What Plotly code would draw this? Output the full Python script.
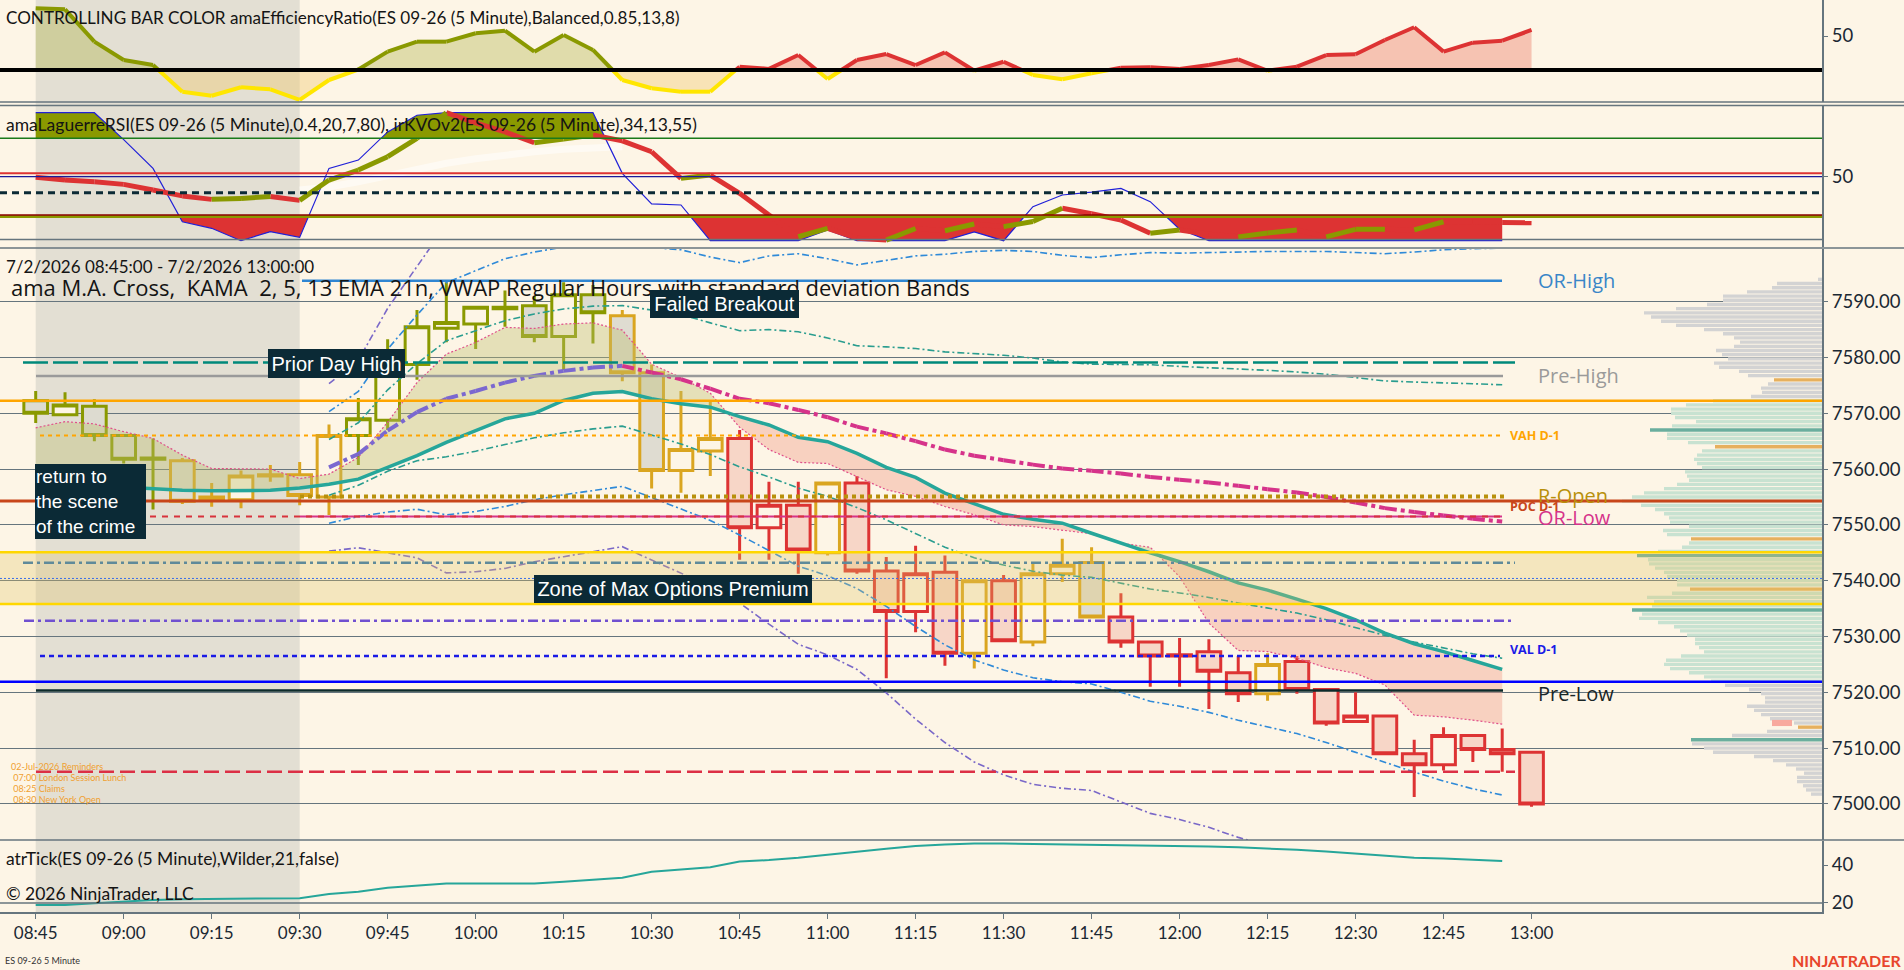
import numpy as np
import pandas as pd
import plotly.graph_objects as go

# ---------------- data (ES 09-26, 5 minute, 7/2/2026) ----------------
bar_times = pd.date_range("2026-07-02 08:45", "2026-07-02 13:00", freq="5min")

opens = [7572.25, 7569.75, 7571.25, 7566.0, 7562.0, 7561.5, 7554.75, 7554.5, 7558.75, 7559.0,
         7555.0, 7566.0, 7568.75, 7578.75, 7585.25, 7586.0, 7588.75, 7589.25, 7583.75, 7591.25,
         7587.5, 7577.25, 7559.75, 7563.25, 7565.5, 7549.5, 7553.5, 7545.0, 7557.5, 7541.75,
         7534.5, 7541.5, 7527.0, 7540.0, 7529.0, 7541.25, 7543.25, 7533.5, 7529.0, 7526.5,
         7527.25, 7523.5, 7519.75, 7525.5, 7520.5, 7514.75, 7515.75, 7509.0, 7507.0, 7512.25,
         7509.75, 7509.25]
highs = [7574.0, 7573.75, 7572.5, 7566.25, 7565.5, 7562.0, 7557.5, 7559.75, 7560.75, 7561.25,
         7568.0, 7572.75, 7583.25, 7588.5, 7593.5, 7589.25, 7592.0, 7591.0, 7593.5, 7593.0,
         7588.5, 7578.75, 7574.0, 7572.0, 7567.0, 7557.75, 7557.75, 7557.5, 7558.75, 7544.25,
         7546.25, 7544.5, 7540.0, 7541.0, 7543.0, 7547.5, 7546.0, 7537.75, 7529.0, 7529.75,
         7529.5, 7526.5, 7527.0, 7526.5, 7520.75, 7520.0, 7515.75, 7511.5, 7513.75, 7512.5,
         7513.5, 7509.25]
lows = [7568.25, 7569.5, 7565.0, 7561.0, 7552.75, 7553.75, 7553.25, 7553.0, 7557.75, 7553.5,
        7551.75, 7560.75, 7567.0, 7576.0, 7582.75, 7581.5, 7585.5, 7582.75, 7577.75, 7582.5,
        7575.75, 7556.5, 7555.75, 7558.75, 7543.75, 7543.75, 7541.25, 7544.5, 7541.25, 7522.5,
        7530.75, 7524.75, 7524.25, 7529.25, 7528.25, 7539.75, 7533.5, 7528.0, 7521.0, 7521.0,
        7517.0, 7518.25, 7518.5, 7519.75, 7514.0, 7514.75, 7509.0, 7501.25, 7506.0, 7507.5,
        7505.75, 7499.5]
closes = [7570.0, 7571.5, 7566.0, 7561.75, 7561.75, 7554.25, 7555.0, 7558.75, 7559.0, 7555.25,
          7566.0, 7569.0, 7578.75, 7585.5, 7586.25, 7589.0, 7589.0, 7583.75, 7591.25, 7588.0,
          7577.25, 7559.75, 7563.5, 7565.5, 7549.5, 7553.5, 7545.5, 7557.5, 7541.75, 7534.5,
          7541.25, 7527.0, 7540.0, 7529.25, 7541.25, 7542.75, 7533.5, 7529.0, 7526.5, 7526.75,
          7523.75, 7519.75, 7525.0, 7520.5, 7514.5, 7515.75, 7509.0, 7507.0, 7512.25, 7509.75,
          7509.0, 7500.0]
# bar colour set by the efficiency ratio: O olive, G gold, R red
bar_colors = "OOOOOGGGGGGOOOOOOOOOGGGGRRRGRRRRGRGGGRRRRRGRRRRRRRRR"

ema_line = [7557.6, 7557.3, 7557.0, 7556.7, 7556.4, 7556.2, 7556.1, 7556.1, 7556.2, 7556.6,
            7557.3, 7558.2, 7560.3, 7562.4, 7564.8, 7566.9, 7569.0, 7570.0, 7572.3, 7573.6,
            7573.9, 7572.6, 7571.7, 7571.1, 7569.4, 7567.9, 7565.7, 7564.9, 7562.8, 7560.3,
            7558.5, 7555.7, 7553.8, 7551.9, 7551.0, 7550.3, 7548.5, 7546.7, 7545.0, 7543.4,
            7541.6, 7539.6, 7538.3, 7536.7, 7535.0, 7533.0, 7530.6, 7528.7, 7527.3, 7525.7,
            7524.1]
fast_line = [7567.4, 7568.5, 7568.1, 7566.7, 7565.5, 7562.5, 7560.1, 7560.0, 7560.0, 7558.3,
             7559.1, 7562.1, 7568.4, 7575.5, 7580.6, 7582.7, 7585.4, 7585.2, 7586.0, 7586.2,
             7584.9, 7578.8, 7576.4, 7573.6, 7567.5, 7563.5, 7561.2, 7561.0, 7558.6, 7556.3,
             7555.1, 7553.3, 7551.8, 7550.0, 7549.7, 7549.1, 7548.4, 7546.7, 7546.0, 7540.7,
             7532.4, 7527.5, 7527.3, 7526.1, 7524.4, 7523.4, 7521.3, 7515.9, 7515.6, 7515.0,
             7514.3]
vwap_start = 10  # first regular-hours bar
vwap = [7560.3, 7562.7, 7566.9, 7570.2, 7572.6, 7574.0, 7575.5, 7576.7, 7577.6, 7578.2,
        7578.5, 7577.3, 7576.1, 7574.4, 7572.6, 7571.8, 7570.6, 7569.3, 7567.6, 7566.4,
        7565.0, 7563.5, 7562.4, 7561.6, 7560.8, 7560.1, 7559.7, 7559.2, 7558.6, 7558.1,
        7557.6, 7557.0, 7556.4, 7555.8, 7555.0, 7554.0, 7553.0, 7552.3, 7551.7, 7551.1,
        7550.6]
vwap_sd = [5.0, 5.6, 7.3, 8.7, 10.4, 10.8, 11.1, 11.1, 11.1, 11.0,
           10.8, 11.2, 11.6, 11.8, 12.2, 13.2, 14.0, 14.2, 14.5, 15.5,
           16.6, 17.5, 18.3, 18.8, 19.1, 19.1, 19.1, 19.6, 20.1, 20.3,
           20.6, 21.0, 21.3, 21.6, 22.0, 22.4, 22.8, 23.3, 23.8, 24.2,
           24.5]

levels = {
    "or_high": 7593.75, "prior_high": 7579.1, "pre_high": 7576.7, "orange": 7572.25,
    "vah": 7566.0, "r_open": 7555.1, "poc": 7554.3, "or_low": 7551.5,
    "zone_top": 7545.1, "zone_mid": 7543.2, "blue_dot": 7540.4, "zone_bot": 7535.8,
    "purple": 7532.8, "val": 7526.5, "blue": 7521.9, "pre_low": 7520.3, "red_low": 7505.75,
}

# volume profile (0.75 pt rows from the top, relative volume)
vp_top, vp_step = 7594.0, 0.75
vp_volume = [4,
             45, 50, 75, 99, 99, 115, 146, 178, 171, 161, 146, 118, 99, 88, 82,
             88, 106, 100, 94, 108, 103, 83, 74, 48, 54, 61, 60, 71, 109, 136,
             151, 151, 147, 126, 150, 172, 155, 155, 134, 107, 120, 125, 128, 125, 120,
             137, 135, 133, 145, 158, 178, 190, 200, 181, 167, 158, 153, 152, 133, 159,
             155, 131, 133, 140, 164, 185, 174, 173, 167, 158, 155,
             145, 145, 132, 150, 175, 168, 170, 190, 180, 183, 164, 148, 142, 135, 127,
             127, 123, 118, 141, 156, 158, 152, 133, 118, 111, 97, 73, 61, 57, 57,
             75, 68, 61, 52, 28, 24, 55, 90, 131, 130, 118, 109, 68, 49, 36,
             26, 18, 25, 25, 19, 16, 11]
vp_value_area = (7521.5, 7572.5)
vp_orange_rows = [24, 40, 62, 74, 107]
vp_teal_rows = [36, 66, 79, 110]
vp_pink_row, vp_pink_from, vp_pink_len = 106, 30, 20

# efficiency ratio panel
er_values = [74.4, 73.5, 45.0, 28.8, 24.4, 0.9, -2.7, 4.8, 3.0, -6.4,
             11.2, 20.5, 36.2, 45.0, 45.0, 52.4, 54.7, 36.2, 50.9, 37.7,
             11.2, 3.9, 0.9, 0.9, 22.9, 21.0, 33.2, 12.1, 28.8, 34.1,
             24.4, 35.6, 19.4, 27.3, 15.6, 11.8, 17.1, 22.0, 22.4, 21.0,
             24.4, 29.4, 19.4, 22.9, 33.2, 33.9, 46.5, 57.7, 36.2, 44.1,
             45.9, 55.3]
er_level = 20.0
er_regime = "UUUUUUUUUUUUUUUUUUUUDDDDDDDDDDDDDDDDDDDDDDDDDDDDDDDD"

# Laguerre RSI / KVO panel
lrsi = [100, 100, 100, 79, 56.5, 14.8, 9.7, 0, 7, 2.6,
        56.5, 63, 85, 98, 100, 100, 100, 100, 100, 100,
        52.6, 28.7, 27.9, 0, 0, 0, 0, 8.4, 0, 0,
        0, 0, 6.8, 0, 26.6, 35.7, 38.0, 40.9, 30.5, 8.9,
        0, 0, 0, 0, 0, 0, 0, 0, 0, 0, 0]
kvo = [49.6, 47.5, 46.0, 44.0, 39.6, 35.0, 32.3, 33.0, 34.5, 31.5,
       47.4, 55.2, 65.6, 80.0, 100.0, 92.0, 85.0, 76.5, 79.5, 82.6,
       78.0, 69.5, 48.7, 51.3, 37.0, 20.0, 3.1, 9.7, 2.0, 0.5,
       9.5, 7.8, 13.0, 11.0, 15.0, 25.3, 21.0, 16.2, 5.8, 8.4,
       5.0, 3.0, 6.0, 8.4, 3.0, 8.9, 9.0, 8.4, 14.8, 14.5,
       14.2, 14.0]
ghost_start = 9
ghost = [39.6, 42.0, 46.0, 51.0, 56.0, 60.5, 64.0, 67.0, 69.5, 71.5, 72.5, 73.4]
lrsi_lines = {"green": 80, "red": 52.7, "navy": 50, "dash": 37.5, "darkred": 20, "olive": 19}

atr = [19.0, 19.0, 19.8, 20.6, 21.6, 22.0, 22.1, 22.2, 22.1, 22.5,
       24.7, 25.9, 28.0, 29.1, 30.3, 30.3, 30.3, 30.3, 31.2, 32.1,
       33.3, 36.5, 37.7, 38.8, 41.8, 42.6, 43.8, 45.5, 47.0, 48.5,
       50.0, 50.8, 51.3, 51.3, 51.1, 51.0, 50.8, 50.6, 50.3, 50.0,
       49.7, 49.3, 48.7, 48.0, 47.1, 46.0, 44.8, 43.8, 43.4, 42.6,
       42.1]

price_ticks = list(range(7500, 7600, 10))

# ---------------- geometry ----------------
W, H = 1904, 970
AX_R = 1822            # px of the right price axis
BAR0_PX, BAR_PX = 35.7, 29.33
t0 = bar_times[0]
BG = "#fdf5e6"
SLATE = "#66757e"
OLIVE, GOLD, RED, YEL = "#8a9900", "#daa520", "#dd3333", "#ffe600"


def bt(x):
    return None if x is None else t0 + pd.Timedelta(minutes=5 * x)


def px_time(px):
    return bt((px - BAR0_PX) / BAR_PX)


def py(px):
    return 1 - px / H


def pxx(px):
    return px / W


def with_crossings(xs, a, b):
    X, A, B = [xs[0]], [a[0]], [b[0]]
    for k in range(1, len(xs)):
        d0, d1 = a[k - 1] - b[k - 1], a[k] - b[k]
        if d0 * d1 < 0:
            f = d0 / (d0 - d1)
            X.append(xs[k - 1] + f * (xs[k] - xs[k - 1]))
            v = a[k - 1] + f * (a[k] - a[k - 1])
            A.append(v)
            B.append(v)
        X.append(xs[k])
        A.append(a[k])
        B.append(b[k])
    return np.array(X), np.array(A), np.array(B)


def segments(xs, ys, color_of):
    groups = {}
    for k in range(len(xs) - 1):
        c = color_of(k)
        gx, gy = groups.setdefault(c, ([], []))
        gx += [bt(xs[k]), bt(xs[k + 1]), None]
        gy += [ys[k], ys[k + 1], None]
    return groups


fig = go.Figure()


def band(xs, lo, hi, color, xa, ya):
    fig.add_trace(go.Scatter(x=[bt(v) for v in xs], y=lo, mode="lines", line=dict(width=0),
                             xaxis=xa, yaxis=ya, hoverinfo="skip", showlegend=False))
    fig.add_trace(go.Scatter(x=[bt(v) for v in xs], y=hi, mode="lines", line=dict(width=0),
                             fill="tonexty", fillcolor=color, xaxis=xa, yaxis=ya,
                             hoverinfo="skip", showlegend=False))


def line(xs, ys, color, width, xa, ya, dash=None, opacity=1.0):
    fig.add_trace(go.Scatter(x=xs, y=ys, mode="lines", opacity=opacity,
                             line=dict(color=color, width=width, dash=dash),
                             xaxis=xa, yaxis=ya, hoverinfo="skip", showlegend=False,
                             connectgaps=False))


# ---------------- top panel: efficiency ratio ----------------
n = len(er_values)
X, E, L = with_crossings(np.arange(n, dtype=float), er_values, [er_level] * n)
up = np.maximum(E, er_level)
dn = np.minimum(E, er_level)
m1 = X <= 20
m2 = X >= 20
band(X[m1], L[m1], up[m1], "rgba(170,175,60,0.35)", "x2", "y2")
band(X[m2], L[m2], up[m2], "rgba(235,120,100,0.40)", "x2", "y2")
band(X, L, dn, "rgba(240,200,110,0.40)", "x2", "y2")


def er_color(k):
    mid = (E[k] + E[k + 1]) / 2
    if mid < er_level - 1e-9:
        return YEL
    return OLIVE if er_regime[int((X[k] + X[k + 1]) / 2)] == "U" else RED


for c, (gx, gy) in segments(X, E, er_color).items():
    line(gx, gy, c, 4, "x2", "y2")

# ---------------- second panel: Laguerre RSI / KVO ----------------
nl = len(lrsi)
X, R, L = with_crossings(np.arange(nl, dtype=float), lrsi, [lrsi_lines["green"]] * nl)
band(X, L, np.maximum(R, L), OLIVE, "x3", "y3")
X, R, L = with_crossings(np.arange(nl, dtype=float), lrsi, [lrsi_lines["darkred"]] * nl)
band(X, np.minimum(R, L), L, RED, "x3", "y3")
line([bt(ghost_start + k) for k in range(len(ghost))], ghost, "rgba(255,255,255,0.5)", 7, "x3", "y3")
line([bt(k) for k in range(nl)], lrsi, "#2020d8", 1.2, "x3", "y3")
kx = np.arange(len(kvo), dtype=float)
for c, (gx, gy) in segments(kx, kvo, lambda k: OLIVE if kvo[k + 1] > kvo[k] else RED).items():
    line(gx, gy, c, 5, "x3", "y3")

# ---------------- main panel ----------------
vp_price = vp_top - vp_step * np.arange(len(vp_volume))
vp_colors = []
for k, p in enumerate(vp_price):
    if k in vp_orange_rows:
        vp_colors.append("#e6b05e")
    elif k in vp_teal_rows:
        vp_colors.append("#6aae9e")
    elif vp_value_area[0] <= p <= vp_value_area[1]:
        vp_colors.append("#c8e2d1")
    else:
        vp_colors.append("#d3d3d3")
fig.add_trace(go.Bar(x=vp_volume, y=vp_price, orientation="h", width=0.6,
                     marker=dict(color=vp_colors, line=dict(width=0)),
                     xaxis="x5", yaxis="y", hoverinfo="skip", showlegend=False))
fig.add_trace(go.Bar(x=[vp_pink_len], y=[vp_price[vp_pink_row]], base=[vp_pink_from],
                     orientation="h", width=1.1, marker=dict(color="#f8a99e", line=dict(width=0)),
                     xaxis="x5", yaxis="y", hoverinfo="skip", showlegend=False))

# cloud between the EMA and the fast average
ne = len(ema_line)
X, F, T = with_crossings(np.arange(ne, dtype=float), fast_line, ema_line)
band(X, T, np.maximum(F, T), "rgba(190,190,110,0.38)", "x", "y")
band(X, np.minimum(F, T), T, "rgba(240,160,140,0.42)", "x", "y")

# VWAP standard deviation bands
vx = [bt(vwap_start + k) for k in range(len(vwap))]
vw = np.array(vwap)
sd = np.array(vwap_sd)
for k_sd, col in [(3, "#7a68c8"), (2, "#2f8ad8"), (1, "#2a9d8f")]:
    line(vx, vw + k_sd * sd, col, 1.6, "x", "y", dash="7px,3px,2px,3px")
    line(vx, vw - k_sd * sd, col, 1.6, "x", "y", dash="7px,3px,2px,3px")

line([bt(k) for k in range(ne)], fast_line, "#e0508a", 1.2, "x", "y", dash="2px,2px")
line([bt(k) for k in range(ne)], ema_line, "#26a69a", 3.5, "x", "y")
wx = np.arange(vwap_start, vwap_start + len(vwap), dtype=float)
for c, (gx, gy) in segments(wx, vwap, lambda k: "#7b68d0" if vwap[k + 1] >= vwap[k] else "#d6338a").items():
    line(gx, gy, c, 4, "x", "y", dash="12px,4px,4px,4px")

palette = {"O": OLIVE, "G": GOLD, "R": RED}
down_fill = {"O": "#dddbd0", "G": "#dfdcd1", "R": "#f7d6c7"}
for key, col in palette.items():
    idx = [i for i, c in enumerate(bar_colors) if c == key]
    fig.add_trace(go.Candlestick(
        x=[bar_times[i] for i in idx],
        open=[opens[i] for i in idx], high=[highs[i] for i in idx],
        low=[lows[i] for i in idx], close=[closes[i] for i in idx],
        increasing=dict(line=dict(color=col, width=3), fillcolor=BG),
        decreasing=dict(line=dict(color=col, width=3), fillcolor=down_fill[key]),
        whiskerwidth=0, xaxis="x", yaxis="y", hoverinfo="skip", showlegend=False))

# ---------------- ATR panel ----------------
line([bt(k) for k in range(len(atr))], atr, "#26a69a", 2, "x4", "y4")

# ---------------- shapes ----------------
shapes = []
# pre-market session shading across all panels
shapes.append(dict(type="rect", xref="x", yref="paper", x0=bt(0), x1=bt(9), y0=py(912), y1=1,
                   fillcolor="#e3dfd3", line=dict(width=0), layer="below"))
shapes.append(dict(type="rect", xref="paper", yref="y", x0=0, x1=pxx(AX_R),
                   y0=levels["zone_bot"], y1=levels["zone_top"],
                   fillcolor="rgba(225,195,100,0.30)", line=dict(width=0), layer="above"))

level_style = [
    ("or_high", 302, 1502, "#2f86d2", 2.5, None),
    ("prior_high", 23, 1515, "#00897b", 2.5, "25px,5px"),
    ("pre_high", 36, 1503, "#9a9a9a", 2.5, None),
    ("orange", 0, AX_R, "#ffa500", 2.5, None),
    ("vah", 40, 1500, "#ffa500", 2, "4px,4px"),
    ("r_open", 300, 1504, "#b8900a", 4, "4px,4px"),
    ("poc", 0, AX_R, "#c8461a", 3, None),
    ("or_low", 300, 1502, "#d6338a", 2, None),
    ("or_low", 150, 1502, "#d8323c", 2, "6px,6px"),
    ("zone_top", 0, AX_R, "#ffd700", 2.5, None),
    ("zone_bot", 0, AX_R, "#ffd700", 2.5, None),
    ("zone_mid", 23, 1515, "#5f8a9a", 2.5, "10px,4px,3px,4px"),
    ("blue_dot", 0, AX_R, "#3a6ee8", 1, "2px,2px"),
    ("purple", 24, 1514, "#7050d0", 2.5, "10px,4px,3px,4px"),
    ("val", 40, 1500, "#1a1ae6", 2.5, "5px,4px"),
    ("blue", 0, AX_R, "#0000ff", 2.5, None),
    ("pre_low", 36, 1503, "#0d2b2b", 2.5, None),
    ("red_low", 36, 1515, "#dc2f45", 2.5, "15px,6px"),
]
for name, a, b, col, wdt, dash in level_style:
    shapes.append(dict(type="line", xref="paper", yref="y", x0=pxx(a), x1=pxx(b),
                       y0=levels[name], y1=levels[name],
                       line=dict(color=col, width=wdt, dash=dash), layer="above"))

# top panel zero/threshold line
shapes.append(dict(type="line", xref="paper", yref="y2", x0=0, x1=pxx(AX_R), y0=er_level, y1=er_level,
                   line=dict(color="#000000", width=4)))
# second panel reference lines
for name, col, wdt, dash in [("olive", OLIVE, 3, None), ("green", "#1a7a1a", 1.5, None),
                             ("red", RED, 2, None), ("navy", "#1a1a9a", 1.2, None),
                             ("dash", "#0b2a36", 3, "7px,5px"), ("darkred", "#8b0000", 1.5, None)]:
    shapes.append(dict(type="line", xref="paper", yref="y3", x0=0, x1=pxx(AX_R),
                       y0=lrsi_lines[name], y1=lrsi_lines[name],
                       line=dict(color=col, width=wdt, dash=dash), layer="above"))
shapes.append(dict(type="line", xref="paper", yref="paper", x0=0, x1=pxx(AX_R), y0=py(239.5), y1=py(239.5),
                   line=dict(color=SLATE, width=1.5)))
# ATR grid line at 20
shapes.append(dict(type="line", xref="paper", yref="y4", x0=0, x1=pxx(AX_R), y0=20, y1=20,
                   line=dict(color=SLATE, width=1.5)))
# panel separators
for ypx in (102, 105.5, 248, 840):
    shapes.append(dict(type="line", xref="paper", yref="paper", x0=0, x1=1, y0=py(ypx), y1=py(ypx),
                       line=dict(color=SLATE, width=1.5)))

# ---------------- text ----------------
ann = []
TXT = "#141414"


def text(xpx, ypx, s, size, color=TXT, family="Lato", xanchor="left", **kw):
    ann.append(dict(x=pxx(xpx), y=py(ypx), xref="paper", yref="paper", text=s, showarrow=False,
                    xanchor=xanchor, yanchor="middle", font=dict(family=family, size=size, color=color), **kw))


text(4, 17, "CONTROLLING BAR COLOR amaEfficiencyRatio(ES 09-26 (5 Minute),Balanced,0.85,13,8)", 17.1)
text(4, 125, "amaLaguerreRSI(ES 09-26 (5 Minute),0.4,20,7,80), irKVOv2(ES 09-26 (5 Minute),34,13,55)", 17.5)
text(4, 266, "7/2/2026 08:45:00 - 7/2/2026 13:00:00", 17)
text(9, 287, "ama M.A. Cross,\u00a0 KAMA\u00a0 2, 5, 13 EMA 21n, VWAP Regular Hours with standard deviation Bands",
     22, family="Open Sans")
text(4, 858, "atrTick(ES 09-26 (5 Minute),Wilder,21,false)", 17.5)
text(4, 893, "© 2026 NinjaTrader, LLC", 17.5)
text(3, 960, "ES 09-26 5 Minute", 9, color="#333333")
text(1903, 960, "<b>NINJATRADER</b>", 16, color="#e8452c", xanchor="right")

for i, s in enumerate(["02-Jul-2026 Reminders", " 07:00 London Session Lunch", " 08:25 Claims", " 08:30 New York Open"]):
    text(9, 766 + 11 * i, s, 9, color="#f0a030")

# dark call-out boxes
for s, x0, y0, w, h, align, fs in [("Prior Day High", 268, 349, 137, 29, "center", 20),
                                   ("Failed Breakout", 650, 290, 149, 28, "center", 20),
                                   ("return to<br>the scene<br>of the crime", 35, 464, 111, 75, "left", 19),
                                   ("Zone of Max Options Premium", 534, 575, 278, 28, "center", 20)]:
    ann.append(dict(x=pxx(x0), y=py(y0), xref="paper", yref="paper", text=s, showarrow=False,
                    xanchor="left", yanchor="top", align=align, width=w - 2, height=h - 2,
                    bgcolor="#0b2a36", borderpad=0, borderwidth=1, bordercolor="#0b2a36",
                    font=dict(family="Liberation Sans", size=fs, color="#ffffff")))

# right-hand level labels
for s, price, xpx, size, col, bold in [("OR-High", 7593.75, 1536, 20, "#3a86c8", False),
                                       ("Pre-High", 7576.7, 1536, 20, "#9a9a9a", False),
                                       ("VAH D-1", 7566.0, 1508, 12.5, "#ffa500", True),
                                       ("R-Open", 7555.2, 1536, 20, "#b8900a", False),
                                       ("POC D-1", 7553.3, 1508, 12.5, "#c8461a", True),
                                       ("OR-Low", 7551.4, 1536, 20, "#d6338a", False),
                                       ("VAL D-1", 7527.7, 1508, 12.5, "#1a1ae6", True),
                                       ("Pre-Low", 7519.7, 1536, 20, "#1a2626", False)]:
    ann.append(dict(x=pxx(xpx), y=price, xref="paper", yref="y", text=f"<b>{s}</b>" if bold else s,
                    showarrow=False, xanchor="left", yanchor="middle",
                    font=dict(family="Open Sans", size=size, color=col)))

# ---------------- layout ----------------
xr = [px_time(0), px_time(AX_R)]
xdom = [0, pxx(AX_R)]
base_x = dict(range=xr, domain=xdom, showgrid=False, zeroline=False, showticklabels=False, ticks="",
              type="date", fixedrange=True)
xtickfont = dict(family="Lato", size=17, color="#1b2833")
ytickfont = dict(family="Lato", size=18.5, color="#1b2833")
yax = dict(side="right", showline=True, linecolor=SLATE, linewidth=2, ticks="outside", ticklen=4,
           tickcolor=SLATE, tickfont=ytickfont, zeroline=False, showgrid=False, fixedrange=True)

fig.update_layout(
    width=W, height=H, margin=dict(l=0, r=0, t=0, b=0),
    paper_bgcolor=BG, plot_bgcolor="rgba(0,0,0,0)",
    showlegend=False, boxgap=0.15, boxgroupgap=0.05, barmode="overlay",
    xaxis=dict(base_x, anchor="y", rangeslider=dict(visible=False)),
    xaxis2=dict(base_x, anchor="y2"),
    xaxis3=dict(base_x, anchor="y3"),
    xaxis4=dict(base_x, anchor="y4", showticklabels=True, ticks="outside", ticklen=5, tickcolor=SLATE,
                tickvals=list(bar_times[::3]), tickformat="%H:%M", tickfont=xtickfont,
                showline=True, linecolor=SLATE, linewidth=2),
    xaxis5=dict(overlaying="x", anchor="y", range=[AX_R, 0], visible=False, fixedrange=True),
    yaxis=dict(yax, domain=[py(840), py(249)], range=[7493.53, 7599.44], tickvals=price_ticks,
               tickformat=".2f", showgrid=True, gridcolor=SLATE, gridwidth=1),
    yaxis2=dict(yax, domain=[py(102), 1], range=[-8.2, 81.75], tickvals=[50]),
    yaxis3=dict(yax, domain=[py(247), py(106)], range=[-4.92, 105.23], tickvals=[50]),
    yaxis4=dict(yax, domain=[py(912), py(841)], range=[15.26, 52.63], tickvals=[20, 40]),
    shapes=shapes, annotations=ann,
)

fig.write_html("out.html", config={"displayModeBar": False},
               post_script="document.body.style.margin='0';document.body.style.overflow='hidden';")
